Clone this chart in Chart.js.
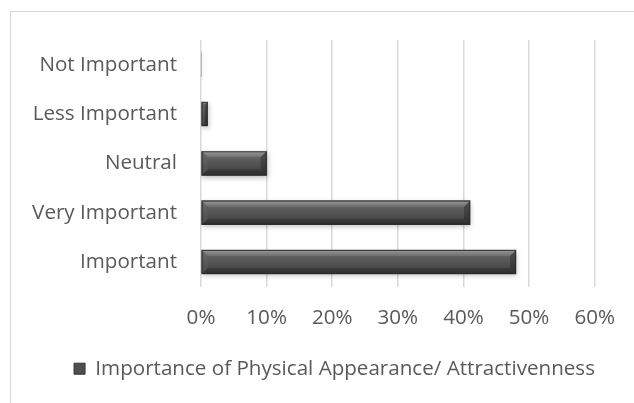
<!DOCTYPE html>
<html>
<head>
<meta charset="utf-8">
<script src="https://cdn.jsdelivr.net/npm/chart.js@4.4.1/dist/chart.umd.min.js"></script>
<style>
  html, body { margin: 0; padding: 0; background: #ffffff; }
  #wrap { position: relative; width: 634px; height: 403px; overflow: hidden; }
  #frame { position: absolute; left: 10px; top: 11px; width: 700px; height: 500px;
           border-left: 1.5px solid #d9d9d9; border-top: 1.5px solid #d9d9d9; box-sizing: border-box; }
  canvas { position: absolute; left: 0; top: 0; }
</style>
</head>
<body>
<div id="wrap">
  <div id="frame"></div>
  <canvas id="c" width="634" height="403"></canvas>
</div>
<script>
// Survey answers, listed top to bottom
const categories = ['Not Important', 'Less Important', 'Neutral', 'Very Important', 'Important'];
// Share of respondents, in percent
const shares = [0, 1, 10, 41, 48];
// Percentage axis
const axisMin = 0;
const axisMax = 60;
const axisStep = 10;
const seriesName = 'Importance of Physical Appearance/ Attractivenness';

const FONT = "'Open Sans', sans-serif";
const FONT_SIZE = 20.6;
const TEXT = '#595959';

// Bevelled look for every bar, built on the bar geometry that Chart.js computed
const bevelPlugin = {
  id: 'bevel',
  beforeDatasetDraw(chart) {
    const ctx = chart.ctx;
    ctx.save();
    ctx.shadowColor = 'rgba(0,0,0,0.25)';
    ctx.shadowBlur = 5;
    ctx.shadowOffsetX = 1;
    ctx.shadowOffsetY = 2;
  },
  afterDatasetDraw(chart) {
    chart.ctx.restore();
  },
  afterDatasetsDraw(chart) {
    const ctx = chart.ctx;
    chart.getDatasetMeta(0).data.forEach(bar => {
      const left = Math.min(bar.base, bar.x);
      const right = Math.max(bar.base, bar.x);
      const top = bar.y - bar.height / 2;
      const bottom = bar.y + bar.height / 2;
      const w = right - left;
      if (w <= 0.5) return;
      const b = Math.min(6, w / 2);
      ctx.save();
      // body
      let g = ctx.createLinearGradient(0, top, 0, bottom);
      g.addColorStop(0, '#6c6c6c');
      g.addColorStop(0.45, '#575757');
      g.addColorStop(1, '#3c3c3c');
      ctx.fillStyle = g;
      ctx.fillRect(left, top, w, bottom - top);
      // top face
      g = ctx.createLinearGradient(0, top, 0, top + b);
      g.addColorStop(0, '#9a9a9a');
      g.addColorStop(1, '#6e6e6e');
      ctx.fillStyle = g;
      ctx.beginPath();
      ctx.moveTo(left, top); ctx.lineTo(right, top);
      ctx.lineTo(right - b, top + b); ctx.lineTo(left + b, top + b);
      ctx.closePath(); ctx.fill();
      // bottom face
      g = ctx.createLinearGradient(0, bottom - b, 0, bottom);
      g.addColorStop(0, '#3c3c3c');
      g.addColorStop(1, '#2c2c2c');
      ctx.fillStyle = g;
      ctx.beginPath();
      ctx.moveTo(left, bottom); ctx.lineTo(right, bottom);
      ctx.lineTo(right - b, bottom - b); ctx.lineTo(left + b, bottom - b);
      ctx.closePath(); ctx.fill();
      // left face
      g = ctx.createLinearGradient(0, top, 0, bottom);
      g.addColorStop(0, '#6a6a6a');
      g.addColorStop(1, '#4a4a4a');
      ctx.fillStyle = g;
      ctx.beginPath();
      ctx.moveTo(left, top); ctx.lineTo(left + b, top + b);
      ctx.lineTo(left + b, bottom - b); ctx.lineTo(left, bottom);
      ctx.closePath(); ctx.fill();
      // right face
      g = ctx.createLinearGradient(0, top, 0, bottom);
      g.addColorStop(0, '#505050');
      g.addColorStop(1, '#2e2e2e');
      ctx.fillStyle = g;
      ctx.beginPath();
      ctx.moveTo(right, top); ctx.lineTo(right - b, top + b);
      ctx.lineTo(right - b, bottom - b); ctx.lineTo(right, bottom);
      ctx.closePath(); ctx.fill();
      // outline
      ctx.strokeStyle = 'rgba(45,45,45,0.85)';
      ctx.lineWidth = 1;
      ctx.strokeRect(left + 0.5, top + 0.5, w - 1, bottom - top - 1);
      ctx.restore();
    });
  }
};

// The legend row sits a little right of the canvas centre
const legendShift = {
  id: 'legendShift',
  afterLayout(chart) {
    const lg = chart.legend;
    if (!lg) return;
    lg.left += 36;
    lg.right += 36;
  }
};

new Chart(document.getElementById('c'), {
  type: 'bar',
  data: {
    labels: categories,
    datasets: [{
      label: seriesName,
      data: shares,
      backgroundColor: '#4f4f4f',
      borderWidth: 0,
      barThickness: 24
    }]
  },
  options: {
    indexAxis: 'y',
    responsive: false,
    animation: false,
    devicePixelRatio: 1,
    layout: { padding: { left: 0, right: 37, top: 40, bottom: 14 } },
    scales: {
      x: {
        min: axisMin,
        max: axisMax,
        ticks: {
          stepSize: axisStep,
          callback: v => v + '%',
          color: TEXT,
          font: { family: FONT, size: FONT_SIZE },
          padding: 19,
          maxRotation: 0
        },
        grid: { color: '#d9d9d9', lineWidth: 1.5, drawTicks: false },
        border: { display: false }
      },
      y: {
        ticks: {
          color: TEXT,
          font: { family: FONT, size: FONT_SIZE },
          padding: 24
        },
        grid: { display: false, drawTicks: false },
        border: { display: false },
        afterFit(scale) { scale.width = 201; }
      }
    },
    plugins: {
      legend: {
        position: 'bottom',
        labels: {
          color: TEXT,
          font: { family: FONT, size: FONT_SIZE },
          boxWidth: 11,
          boxHeight: 11,
          padding: 9,
          generateLabels() {
            return [{
              text: seriesName,
              fillStyle: '#4f4f4f',
              strokeStyle: '#333333',
              lineWidth: 1,
              fontColor: TEXT,
              datasetIndex: 0
            }];
          }
        }
      },
      tooltip: { enabled: false }
    }
  },
  plugins: [bevelPlugin, legendShift]
});
</script>
</body>
</html>
